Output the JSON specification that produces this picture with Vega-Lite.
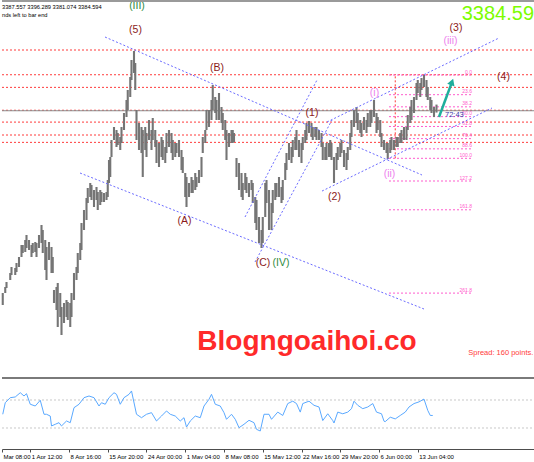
{
 "$schema": "https://vega.github.io/schema/vega-lite/v6.json",
 "padding": 0,
 "spacing": 0,
 "background": "#ffffff",
 "config": {"view": {"stroke": null}, "font": "Liberation Sans"},
 "datasets": {
  "price": [
   {"t":0,"hi":3038.3,"lo":3015.5},{"t":2,"hi":3049.7,"lo":3038.3},{"t":3,"hi":3059.2,"lo":3047.8},{"t":6,"hi":3076.3,"lo":3063},{"t":7,"hi":3087.7,"lo":3072.5},{"t":10,"hi":3085.8,"lo":3072.5},{"t":11,"hi":3095.3,"lo":3078.2},{"t":13,"hi":3106.7,"lo":3087.7},{"t":15,"hi":3129.5,"lo":3106.7},{"t":16,"hi":3129.5,"lo":3114.3},{"t":18,"hi":3139,"lo":3116.2},{"t":19,"hi":3148.5,"lo":3123.8},{"t":21,"hi":3139,"lo":3120},{"t":23,"hi":3129.5,"lo":3106.7},{"t":24,"hi":3133.3,"lo":3114.3},{"t":26,"hi":3135.2,"lo":3116.2},{"t":27,"hi":3133.3,"lo":3106.7},{"t":29,"hi":3148.5,"lo":3123.8},{"t":31,"hi":3167.5,"lo":3133.3},{"t":32,"hi":3158,"lo":3114.3},{"t":34,"hi":3139,"lo":3082},{"t":35,"hi":3125.7,"lo":3063},{"t":37,"hi":3135.2,"lo":3101},{"t":39,"hi":3125.7,"lo":3076.3},{"t":40,"hi":3106.7,"lo":3076.3},{"t":41,"hi":3044,"lo":3019.3},{"t":43,"hi":3049.7,"lo":3006},{"t":44,"hi":3057.3,"lo":2973.7},{"t":46,"hi":3038.3,"lo":2992.7},{"t":47,"hi":3011.7,"lo":2958.5},{"t":49,"hi":3019.3,"lo":2981.3},{"t":51,"hi":3025,"lo":2992.7},{"t":52,"hi":3021.2,"lo":2987},{"t":54,"hi":3019.3,"lo":2973.7},{"t":55,"hi":3038.3,"lo":2992.7},{"t":57,"hi":3076.3,"lo":3025},{"t":59,"hi":3087.7,"lo":3063},{"t":60,"hi":3114.3,"lo":3076.3},{"t":62,"hi":3133.3,"lo":3101},{"t":63,"hi":3171.3,"lo":3120},{"t":65,"hi":3196,"lo":3158},{"t":67,"hi":3218.8,"lo":3177},{"t":68,"hi":3237.8,"lo":3209.3},{"t":70,"hi":3247.3,"lo":3220.7},{"t":71,"hi":3243.5,"lo":3215},{"t":73,"hi":3234,"lo":3201.7},{"t":75,"hi":3239.7,"lo":3215},{"t":76,"hi":3230.2,"lo":3196},{"t":78,"hi":3234,"lo":3205.5},{"t":79,"hi":3230.2,"lo":3211.2},{"t":81,"hi":3228.3,"lo":3211.2},{"t":83,"hi":3230.2,"lo":3215},{"t":84,"hi":3253,"lo":3220.7},{"t":85,"hi":3291,"lo":3247.3},{"t":86,"hi":3296.7,"lo":3258.7},{"t":87,"hi":3329,"lo":3296.7},{"t":89,"hi":3353.7,"lo":3329},{"t":91,"hi":3348,"lo":3315.7},{"t":92,"hi":3342.3,"lo":3319.5},{"t":94,"hi":3334.7,"lo":3310},{"t":95,"hi":3353.7,"lo":3323.3},{"t":97,"hi":3380.3,"lo":3348},{"t":99,"hi":3405,"lo":3372.7},{"t":100,"hi":3424,"lo":3386},{"t":102,"hi":3448.7,"lo":3410.7},{"t":103,"hi":3481,"lo":3443},{"t":105,"hi":3498.1,"lo":3456.3},{"t":106,"hi":3475.3,"lo":3424},{"t":107,"hi":3386,"lo":3329},{"t":109,"hi":3361.3,"lo":3310},{"t":111,"hi":3353.7,"lo":3304.3},{"t":112,"hi":3348,"lo":3258.7},{"t":114,"hi":3353.7,"lo":3310},{"t":115,"hi":3342.3,"lo":3296.7},{"t":117,"hi":3367,"lo":3329},{"t":119,"hi":3348,"lo":3310},{"t":120,"hi":3370.8,"lo":3329},{"t":122,"hi":3348,"lo":3315.7},{"t":123,"hi":3329,"lo":3285.3},{"t":125,"hi":3323.3,"lo":3277.7},{"t":127,"hi":3334.7,"lo":3296.7},{"t":128,"hi":3329,"lo":3291},{"t":130,"hi":3315.7,"lo":3285.3},{"t":131,"hi":3342.3,"lo":3304.3},{"t":133,"hi":3348,"lo":3315.7},{"t":135,"hi":3342.3,"lo":3304.3},{"t":136,"hi":3329,"lo":3291},{"t":138,"hi":3323.3,"lo":3296.7},{"t":139,"hi":3323.3,"lo":3304.3},{"t":141,"hi":3329,"lo":3296.7},{"t":143,"hi":3310,"lo":3272},{"t":144,"hi":3296.7,"lo":3266.3},{"t":146,"hi":3266.3,"lo":3220.7},{"t":147,"hi":3258.7,"lo":3201.7},{"t":149,"hi":3247.3,"lo":3220.7},{"t":151,"hi":3258.7,"lo":3228.3},{"t":152,"hi":3253,"lo":3228.3},{"t":154,"hi":3266.3,"lo":3234},{"t":155,"hi":3258.7,"lo":3239.7},{"t":157,"hi":3272,"lo":3247.3},{"t":159,"hi":3296.7,"lo":3258.7},{"t":160,"hi":3334.7,"lo":3304.3},{"t":162,"hi":3348,"lo":3323.3},{"t":163,"hi":3386,"lo":3348},{"t":165,"hi":3386,"lo":3353.7},{"t":167,"hi":3405,"lo":3367},{"t":168,"hi":3433.5,"lo":3386},{"t":170,"hi":3410.7,"lo":3380.3},{"t":171,"hi":3405,"lo":3367},{"t":173,"hi":3418.3,"lo":3367},{"t":175,"hi":3391.7,"lo":3361.3},{"t":176,"hi":3380.3,"lo":3348},{"t":178,"hi":3367,"lo":3329},{"t":179,"hi":3348,"lo":3291},{"t":181,"hi":3342.3,"lo":3315.7},{"t":183,"hi":3348,"lo":3323.3},{"t":184,"hi":3348,"lo":3323.3},{"t":185,"hi":3342.3,"lo":3325.2},{"t":187,"hi":3294.8,"lo":3258.7},{"t":189,"hi":3285.3,"lo":3234},{"t":191,"hi":3266.3,"lo":3220.7},{"t":192,"hi":3247.3,"lo":3215},{"t":194,"hi":3266.3,"lo":3234},{"t":195,"hi":3258.7,"lo":3228.3},{"t":197,"hi":3247.3,"lo":3220.7},{"t":199,"hi":3253,"lo":3234},{"t":200,"hi":3247.3,"lo":3209.3},{"t":202,"hi":3220.7,"lo":3171.3},{"t":203,"hi":3215,"lo":3158},{"t":205,"hi":3182.7,"lo":3133.3},{"t":207,"hi":3158,"lo":3123.8},{"t":208,"hi":3182.7,"lo":3133.3},{"t":210,"hi":3247.3,"lo":3182.7},{"t":211,"hi":3253,"lo":3209.3},{"t":213,"hi":3234,"lo":3158},{"t":215,"hi":3209.3,"lo":3158},{"t":216,"hi":3234,"lo":3190.3},{"t":218,"hi":3247.3,"lo":3215},{"t":219,"hi":3247.3,"lo":3220.7},{"t":221,"hi":3258.7,"lo":3220.7},{"t":223,"hi":3239.7,"lo":3209.3},{"t":224,"hi":3253,"lo":3215},{"t":226,"hi":3285.3,"lo":3253},{"t":227,"hi":3304.3,"lo":3272},{"t":229,"hi":3323.3,"lo":3291},{"t":231,"hi":3315.7,"lo":3285.3},{"t":232,"hi":3329,"lo":3296.7},{"t":234,"hi":3334.7,"lo":3310},{"t":235,"hi":3348,"lo":3310},{"t":237,"hi":3329,"lo":3296.7},{"t":239,"hi":3323.3,"lo":3285.3},{"t":240,"hi":3334.7,"lo":3310},{"t":242,"hi":3348,"lo":3323.3},{"t":243,"hi":3361.3,"lo":3329},{"t":245,"hi":3365.1,"lo":3342.3},{"t":247,"hi":3361.3,"lo":3334.7},{"t":248,"hi":3353.7,"lo":3329},{"t":250,"hi":3353.7,"lo":3334.7},{"t":251,"hi":3353.7,"lo":3329},{"t":253,"hi":3348,"lo":3329},{"t":255,"hi":3342.3,"lo":3315.7},{"t":256,"hi":3323.3,"lo":3291},{"t":258,"hi":3315.7,"lo":3291},{"t":259,"hi":3323.3,"lo":3291},{"t":261,"hi":3323.3,"lo":3296.7},{"t":262,"hi":3329,"lo":3296.7},{"t":263,"hi":3323.3,"lo":3291},{"t":265,"hi":3296.7,"lo":3247.3},{"t":267,"hi":3304.3,"lo":3272},{"t":268,"hi":3315.7,"lo":3291},{"t":270,"hi":3323.3,"lo":3296.7},{"t":271,"hi":3329,"lo":3304.3},{"t":273,"hi":3310,"lo":3277.7},{"t":275,"hi":3304.3,"lo":3272},{"t":276,"hi":3315.7,"lo":3291},{"t":278,"hi":3342.3,"lo":3310},{"t":279,"hi":3367,"lo":3334.7},{"t":281,"hi":3386,"lo":3353.7},{"t":283,"hi":3391.7,"lo":3361.3},{"t":284,"hi":3380.3,"lo":3348},{"t":286,"hi":3367,"lo":3342.3},{"t":287,"hi":3361.3,"lo":3334.7},{"t":289,"hi":3372.7,"lo":3348},{"t":291,"hi":3367,"lo":3342.3},{"t":292,"hi":3380.3,"lo":3353.7},{"t":294,"hi":3386,"lo":3353.7},{"t":295,"hi":3386,"lo":3361.3},{"t":297,"hi":3405,"lo":3372.7},{"t":299,"hi":3380.3,"lo":3342.3},{"t":300,"hi":3372.7,"lo":3348},{"t":302,"hi":3367,"lo":3334.7},{"t":303,"hi":3342.3,"lo":3315.7},{"t":305,"hi":3329,"lo":3310},{"t":307,"hi":3323.3,"lo":3304.3},{"t":308,"hi":3323.3,"lo":3292.9},{"t":310,"hi":3329,"lo":3304.3},{"t":311,"hi":3334.7,"lo":3310},{"t":313,"hi":3329,"lo":3310},{"t":315,"hi":3334.7,"lo":3315.7},{"t":316,"hi":3334.7,"lo":3315.7},{"t":318,"hi":3342.3,"lo":3323.3},{"t":319,"hi":3348,"lo":3323.3},{"t":321,"hi":3353.7,"lo":3329},{"t":323,"hi":3353.7,"lo":3329},{"t":324,"hi":3376.5,"lo":3348},{"t":326,"hi":3391.7,"lo":3361.3},{"t":327,"hi":3405,"lo":3367},{"t":329,"hi":3410.7,"lo":3380.3},{"t":331,"hi":3437.3,"lo":3405},{"t":332,"hi":3443,"lo":3418.3},{"t":334,"hi":3437.3,"lo":3410.7},{"t":335,"hi":3446.8,"lo":3424},{"t":337,"hi":3452.5,"lo":3429.7},{"t":339,"hi":3443,"lo":3410.7},{"t":340,"hi":3429.7,"lo":3405},{"t":342,"hi":3410.7,"lo":3386},{"t":343,"hi":3405,"lo":3380.3},{"t":345,"hi":3391.7,"lo":3372.7},{"t":347,"hi":3396.3,"lo":3381.1}
  ],
  "rsi": [
   {"t":0,"r":49.6},{"t":2,"r":66.1},{"t":6,"r":73.3},{"t":10,"r":74.3},{"t":14,"r":80.4},{"t":17,"r":75.7},{"t":19,"r":79},{"t":22,"r":63.9},{"t":26,"r":61.4},{"t":30,"r":69.6},{"t":33,"r":49.6},{"t":35,"r":49.6},{"t":38,"r":47.1},{"t":39,"r":32.9},{"t":42,"r":35.3},{"t":45,"r":37.6},{"t":47,"r":32.9},{"t":51,"r":40},{"t":54,"r":37.6},{"t":57,"r":59},{"t":61,"r":63.9},{"t":65,"r":73.3},{"t":69,"r":75.7},{"t":73,"r":73.3},{"t":77,"r":61.4},{"t":79,"r":66.1},{"t":82,"r":63.9},{"t":85,"r":73.3},{"t":89,"r":80.4},{"t":91,"r":78.1},{"t":94,"r":63.9},{"t":97,"r":73.3},{"t":101,"r":78.1},{"t":103,"r":82.9},{"t":107,"r":49.6},{"t":111,"r":44.7},{"t":115,"r":49.6},{"t":119,"r":51.9},{"t":123,"r":40},{"t":127,"r":47.1},{"t":131,"r":54.3},{"t":134,"r":49.6},{"t":138,"r":47.1},{"t":142,"r":40},{"t":145,"r":44.7},{"t":147,"r":31.4},{"t":150,"r":40},{"t":154,"r":47.1},{"t":158,"r":44.7},{"t":161,"r":61.4},{"t":165,"r":71},{"t":167,"r":78.1},{"t":170,"r":63.9},{"t":174,"r":61.4},{"t":177,"r":51.9},{"t":179,"r":42.4},{"t":183,"r":49.6},{"t":186,"r":42.4},{"t":189,"r":30.4},{"t":193,"r":35.3},{"t":197,"r":41},{"t":201,"r":37.6},{"t":203,"r":28.1},{"t":206,"r":25.7},{"t":209,"r":49.6},{"t":213,"r":49.6},{"t":215,"r":42.4},{"t":220,"r":52.7},{"t":224,"r":47.9},{"t":228,"r":64.9},{"t":232,"r":68.3},{"t":235,"r":64.9},{"t":238,"r":52.7},{"t":240,"r":64.9},{"t":245,"r":68.3},{"t":249,"r":62.4},{"t":253,"r":60},{"t":256,"r":40.6},{"t":260,"r":50.3},{"t":264,"r":40.6},{"t":265,"r":37.1},{"t":268,"r":52.7},{"t":272,"r":50.3},{"t":276,"r":52.7},{"t":279,"r":57.6},{"t":281,"r":68.3},{"t":284,"r":62.4},{"t":288,"r":57.6},{"t":292,"r":60},{"t":296,"r":64.9},{"t":299,"r":52.7},{"t":303,"r":50.3},{"t":305,"r":39.7},{"t":306,"r":39.1},{"t":310,"r":45.4},{"t":314,"r":43},{"t":318,"r":47.9},{"t":322,"r":52.7},{"t":325,"r":60},{"t":329,"r":64.9},{"t":333,"r":67.3},{"t":337,"r":71.3},{"t":340,"r":55.1},{"t":342,"r":47.9},{"t":344,"r":47.9}
  ],
  "hl": [{"p":3500},{"p":3453},{"p":3429},{"p":3385.5},{"p":3363},{"p":3338.5},{"p":3324.5}],
  "fib": [{"lvl":"0.0","p":3452.5},{"lvl":"23.6","p":3415.1},{"lvl":"38.2","p":3392},{"lvl":"50.0","p":3373.4},{"lvl":"61.8","p":3354.7},{"lvl":"76.4","p":3331.6},{"lvl":"88.6","p":3312.2},{"lvl":"100.0","p":3294.2},{"lvl":"127.2","p":3251.1},{"lvl":"161.8","p":3196.4},{"lvl":"261.8","p":3038.1}],
  "trend": [
   {"t":81.8,"p":3524.7,"t2":335.4,"p2":3262.5},
   {"t":61.8,"p":3266.3,"t2":337,"p2":3007.9},
   {"t":193.8,"p":3182.7,"t2":251.4,"p2":3443},
   {"t":201.8,"p":3097.2,"t2":263.4,"p2":3367},
   {"t":259.4,"p":3363.2,"t2":397,"p2":3522.8},
   {"t":255.4,"p":3232,"t2":391.4,"p2":3389.8}
  ],
  "fibv": [{"t":314,"p":3294.2,"p2":3452.5}],
  "arrow": [{"t":349,"p":3372.7,"t2":359.4,"p2":3439.2}],
  "waves": [
   {"t":106.2,"p":3538,"label":"(5)"},{"t":171.4,"p":3465.8,"label":"(B)"},{"t":145.4,"p":3175.1,"label":"(A)"},{"t":208.2,"p":3094.4,"label":"(C)"},{"t":247.4,"p":3379.4,"label":"(1)"},{"t":265.4,"p":3220.7,"label":"(2)"},{"t":362.6,"p":3541.5,"label":"(3)"},{"t":400.6,"p":3448.7,"label":"(4)"}
  ],
  "pinkwaves": [{"t":297.4,"p":3418.3,"label":"(i)"},{"t":309.4,"p":3264.4,"label":"(ii)"},{"t":358.2,"p":3516.2,"label":"(iii)"}],
  "greenwaves": [{"t":222.6,"p":3094.4,"label":"(IV)"},{"t":107.4,"p":3584.5,"label":"(III)"}],
  "header": [{"t":-0.6,"p":3582.3,"label":"3387.557 3396.289 3381.074 3384.594"},{"t":-0.6,"p":3566.5,"label":"nds left to bar end"}]
 },
 "vconcat": [
  {
   "width": 534,
   "height": 377,
   "layer": [
    {
     "data": {"name": "hl"},
     "mark": {"type": "rule", "color": "#ff3b3b", "strokeDash": [2, 2], "strokeWidth": 1},
     "encoding": {"y": {"field": "p", "type": "quantitative", "scale": {"domain": [2878.7, 3595], "nice": false, "zero": false}, "axis": null}}
    },
    {
     "data": {"values": [{"p": 3384.59}]},
     "mark": {"type": "rule", "color": "#8c8c8c", "strokeWidth": 1},
     "encoding": {"y": {"field": "p", "type": "quantitative"}}
    },
    {
     "data": {"name": "fib"},
     "mark": {"type": "rule", "color": "#ff5ccd", "strokeDash": [2, 2], "strokeWidth": 1},
     "encoding": {
      "x": {"datum": 309, "type": "quantitative", "scale": {"domain": [-0.6, 426.6], "nice": false, "zero": false}, "axis": null},
      "x2": {"datum": 375.4},
      "y": {"field": "p", "type": "quantitative"}
     }
    },
    {
     "data": {"name": "fib"},
     "mark": {"type": "text", "color": "#ff5ccd", "fontSize": 5, "align": "right", "baseline": "bottom", "dy": -0.5},
     "encoding": {
      "x": {"datum": 375.4, "type": "quantitative"},
      "y": {"field": "p", "type": "quantitative"},
      "text": {"field": "lvl"}
     }
    },
    {
     "data": {"name": "fibv"},
     "mark": {"type": "rule", "color": "#ff3b3b", "strokeDash": [2, 2], "strokeWidth": 1},
     "encoding": {
      "x": {"field": "t", "type": "quantitative"},
      "y": {"field": "p", "type": "quantitative"},
      "y2": {"field": "p2"}
     }
    },
    {
     "data": {"name": "price"},
     "mark": {"type": "rule", "color": "#757575", "strokeWidth": 2.1},
     "encoding": {
      "x": {"field": "t", "type": "quantitative"},
      "y": {"field": "hi", "type": "quantitative"},
      "y2": {"field": "lo"}
     }
    },
    {
     "data": {"name": "trend"},
     "mark": {"type": "rule", "color": "#6b6bff", "strokeDash": [2, 2], "strokeWidth": 1},
     "encoding": {
      "x": {"field": "t", "type": "quantitative"},
      "y": {"field": "p", "type": "quantitative"},
      "x2": {"field": "t2"},
      "y2": {"field": "p2"}
     }
    },
    {
     "data": {"name": "arrow"},
     "mark": {"type": "rule", "color": "#1fae9c", "strokeWidth": 2.5},
     "encoding": {
      "x": {"field": "t", "type": "quantitative"},
      "y": {"field": "p", "type": "quantitative"},
      "x2": {"field": "t2"},
      "y2": {"field": "p2"}
     }
    },
    {
     "data": {"name": "arrow"},
     "mark": {"type": "point", "shape": "triangle-up", "angle": 20, "size": 60, "filled": true, "color": "#1fae9c", "opacity": 1},
     "encoding": {
      "x": {"field": "t2", "type": "quantitative"},
      "y": {"field": "p2", "type": "quantitative"}
     }
    },
    {
     "data": {"name": "waves"},
     "mark": {"type": "text", "color": "#8b1a1a", "fontSize": 10.5, "align": "center", "baseline": "middle"},
     "encoding": {
      "x": {"field": "t", "type": "quantitative"},
      "y": {"field": "p", "type": "quantitative"},
      "text": {"field": "label"}
     }
    },
    {
     "data": {"name": "pinkwaves"},
     "mark": {"type": "text", "color": "#ee82ee", "fontSize": 10.5, "align": "center", "baseline": "middle"},
     "encoding": {
      "x": {"field": "t", "type": "quantitative"},
      "y": {"field": "p", "type": "quantitative"},
      "text": {"field": "label"}
     }
    },
    {
     "data": {"name": "greenwaves"},
     "mark": {"type": "text", "color": "#2e8b3e", "fontSize": 10.5, "align": "center", "baseline": "middle"},
     "encoding": {
      "x": {"field": "t", "type": "quantitative"},
      "y": {"field": "p", "type": "quantitative"},
      "text": {"field": "label"}
     }
    },
    {
     "data": {"values": [{"t": 367.2, "p": 3567.5, "label": "3384.59"}]},
     "mark": {"type": "text", "color": "#7cfc00", "fontSize": 20, "align": "left", "baseline": "middle"},
     "encoding": {
      "x": {"field": "t", "type": "quantitative"},
      "y": {"field": "p", "type": "quantitative"},
      "text": {"field": "label"}
     }
    },
    {
     "data": {"values": [{"t": 243.4, "p": 2930, "label": "Blogngoaihoi.co"}]},
     "mark": {"type": "text", "color": "#ff2a2a", "fontSize": 28, "fontWeight": "bold", "align": "center", "baseline": "alphabetic"},
     "encoding": {
      "x": {"field": "t", "type": "quantitative"},
      "y": {"field": "p", "type": "quantitative"},
      "text": {"field": "label"}
     }
    },
    {
     "data": {"values": [{"t": 372.4, "p": 2924.9, "label": "Spread: 160 points."}]},
     "mark": {"type": "text", "color": "#ff3c3c", "fontSize": 7.5, "align": "left", "baseline": "middle"},
     "encoding": {
      "x": {"field": "t", "type": "quantitative"},
      "y": {"field": "p", "type": "quantitative"},
      "text": {"field": "label"}
     }
    },
    {
     "data": {"name": "header"},
     "mark": {"type": "text", "color": "#000000", "fontSize": 5.7, "align": "left", "baseline": "middle"},
     "encoding": {
      "x": {"field": "t", "type": "quantitative"},
      "y": {"field": "p", "type": "quantitative"},
      "text": {"field": "label"}
     }
    },
    {
     "data": {"values": [{"t": 353.8, "p": 3376.5, "label": "72:43"}]},
     "mark": {"type": "text", "color": "#3c3caa", "fontSize": 7.5, "align": "left", "baseline": "middle"},
     "encoding": {
      "x": {"field": "t", "type": "quantitative"},
      "y": {"field": "p", "type": "quantitative"},
      "text": {"field": "label"}
     }
    },
    {
     "data": {"values": [{"p": 3593.1}]},
     "mark": {"type": "rule", "color": "#9a9a9a", "strokeWidth": 2},
     "encoding": {"y": {"field": "p", "type": "quantitative"}}
    }
   ]
  },
  {
   "width": 534,
   "height": 71,
   "layer": [
    {
     "data": {"values": [{"r": 70}, {"r": 30}]},
     "mark": {"type": "rule", "color": "#c8c8c8", "strokeDash": [2, 2], "strokeWidth": 1},
     "encoding": {"y": {"field": "r", "type": "quantitative", "scale": {"domain": [0, 101.4], "nice": false, "zero": false}, "axis": null}}
    },
    {
     "data": {"name": "rsi"},
     "mark": {"type": "line", "color": "#5aa9ff", "strokeWidth": 1},
     "encoding": {
      "x": {
       "field": "t", "type": "quantitative",
       "scale": {"domain": [-0.6, 426.6], "nice": false, "zero": false},
       "axis": {
        "values": [-0.6, 22, 53, 84, 115, 146, 177, 208, 239, 270, 301, 332],
        "labelExpr": "datum.value < 0 ? 'Mar 08:00' : datum.value == 22 ? '1 Apr 12:00' : datum.value == 53 ? '8 Apr 16:00' : datum.value == 84 ? '15 Apr 20:00' : datum.value == 115 ? '24 Apr 00:00' : datum.value == 146 ? '1 May 04:00' : datum.value == 177 ? '8 May 08:00' : datum.value == 208 ? '15 May 12:00' : datum.value == 239 ? '22 May 16:00' : datum.value == 270 ? '29 May 20:00' : datum.value == 301 ? '6 Jun 00:00' : '13 Jun 04:00'",
        "title": null, "grid": false,
        "domainColor": "#4d4d4d", "tickColor": "#4d4d4d", "tickSize": 3,
        "labelFontSize": 6, "labelColor": "#000000", "labelFont": "Liberation Sans",
        "labelAlign": "left", "labelBaseline": "top", "labelPadding": 1, "labelOffset": 1,
        "labelOverlap": false, "labelFlush": false, "labelBound": false
       }
      },
      "y": {"field": "r", "type": "quantitative"}
     }
    },
    {
     "data": {"values": [{"r": 101.4}]},
     "mark": {"type": "rule", "color": "#7a7a7a", "strokeWidth": 2},
     "encoding": {"y": {"field": "r", "type": "quantitative"}}
    }
   ]
  }
 ]
}
